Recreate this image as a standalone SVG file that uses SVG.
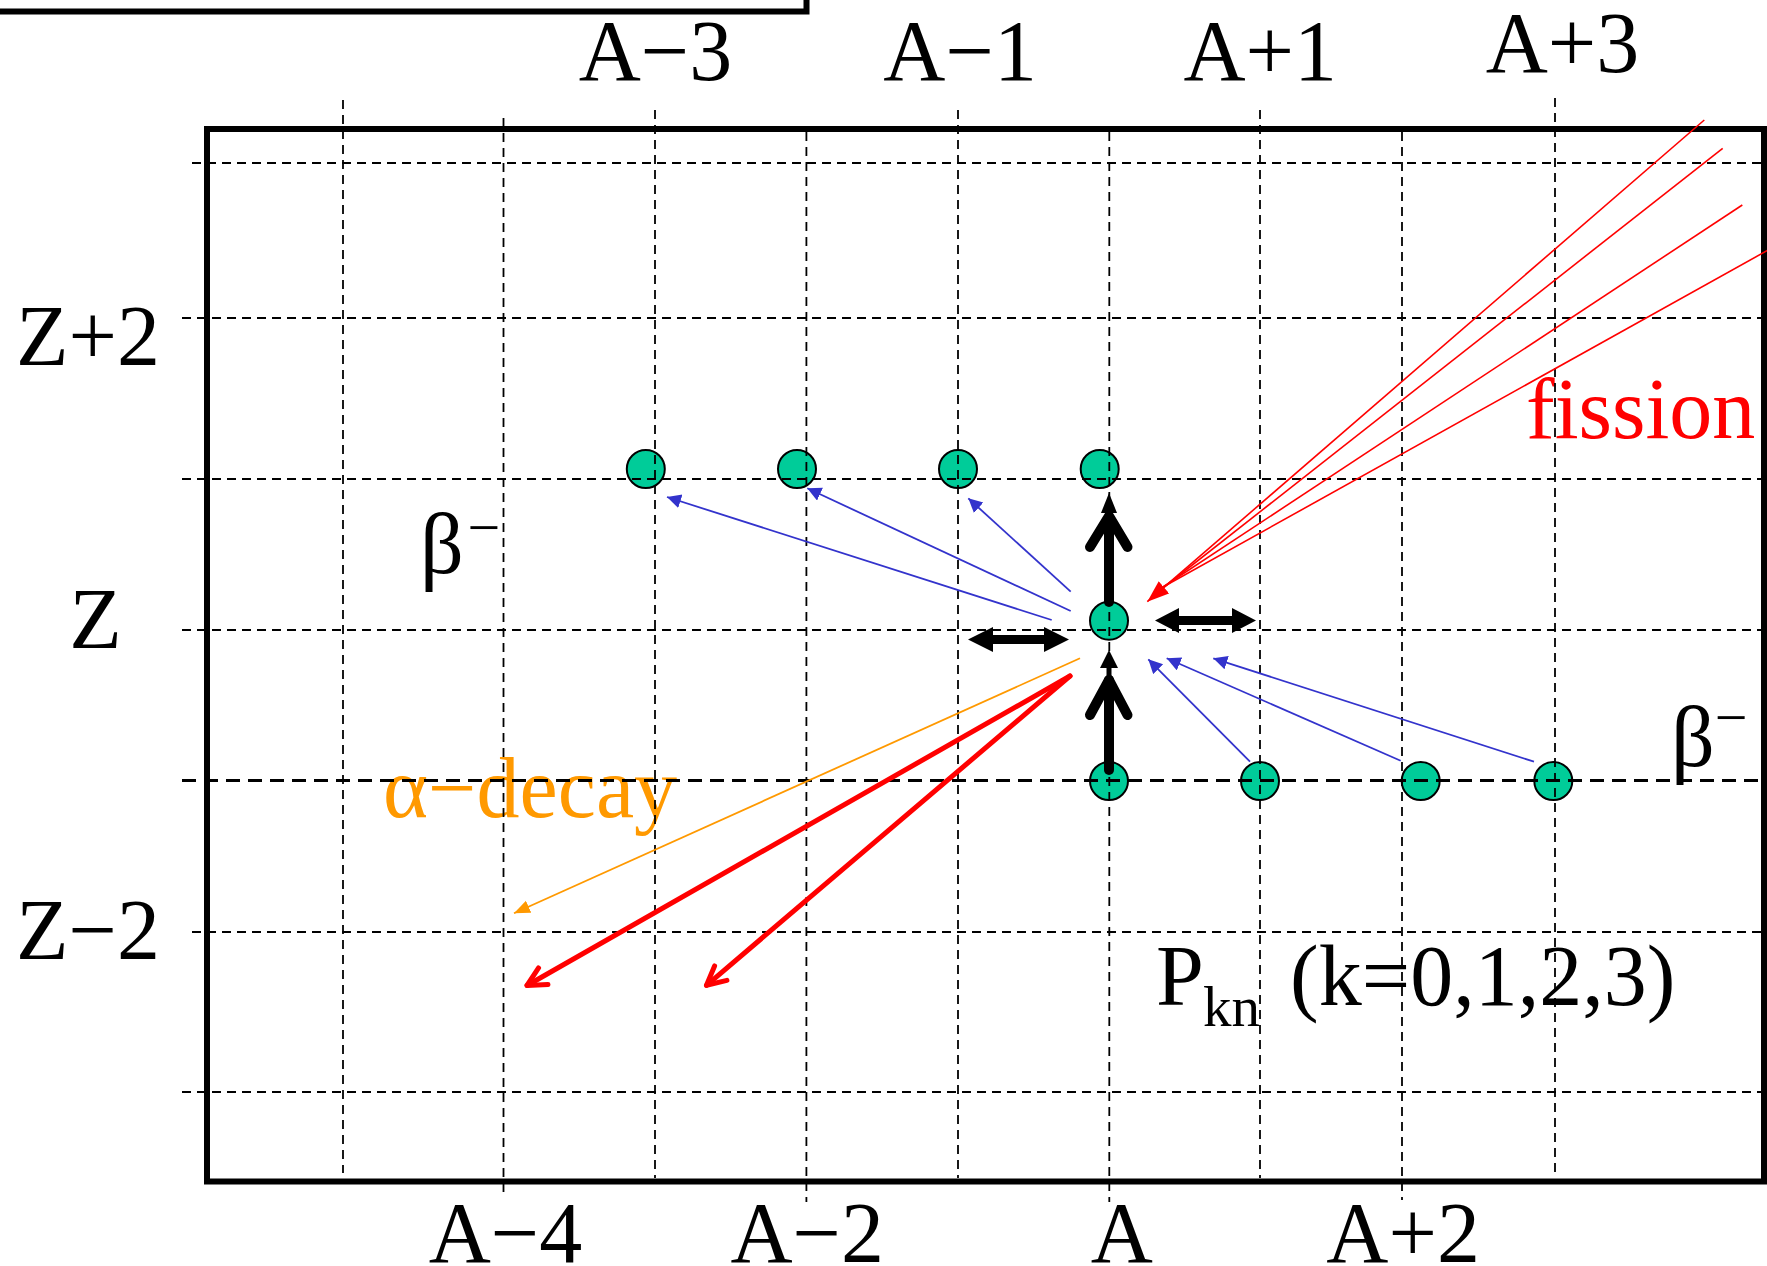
<svg xmlns="http://www.w3.org/2000/svg" width="1767" height="1266" viewBox="0 0 1767 1266">
<defs>
<style>
.lbl{font-family:"Liberation Serif","Times New Roman",serif;font-size:86px;fill:#000}
.sup{font-size:58px}
.sub{font-size:57px}
.node circle{fill:#00CC99;stroke:#000;stroke-width:2}
.grid line{stroke:#000;stroke-width:1.8;stroke-dasharray:9 6;fill:none}
.grid line.bold{stroke-width:3;stroke-dasharray:14 8}
.frame{fill:none;stroke:#000;stroke-width:6}
.blue{stroke:#3333CC;stroke-width:1.8;fill:none;marker-end:url(#hb)}
.orange{stroke:#FF9900;stroke-width:1.8;fill:none;marker-end:url(#ho)}
.fis{stroke:#FF0000;stroke-width:1.6;fill:none}
.redthick{stroke:#FF0000;stroke-width:5;fill:none;stroke-linecap:round;marker-end:url(#hrc)}
.blk{stroke:#000;stroke-width:10;fill:none;stroke-linecap:round;stroke-linejoin:round}
.blkfill{fill:#000;stroke:none}
</style>
<marker id="hb" markerUnits="userSpaceOnUse" markerWidth="16" markerHeight="16" refX="14" refY="7" orient="auto"><path d="M0,0 L14,7 L0,14 z" fill="#3333CC"/></marker>
<marker id="ho" markerUnits="userSpaceOnUse" markerWidth="18" markerHeight="16" refX="16" refY="6.5" orient="auto"><path d="M0,0 L16,6.5 L0,13 z" fill="#FF9900"/></marker>
<marker id="hr" markerUnits="userSpaceOnUse" markerWidth="24" markerHeight="18" refX="22" refY="8" orient="auto"><path d="M0,0 L22,8 L0,16 z" fill="#FF0000"/></marker>
<marker id="hrc" markerUnits="userSpaceOnUse" markerWidth="1" markerHeight="1" refX="0" refY="0" orient="auto" style="overflow:visible"><path d="M-18.7,-9.5 L0,0 L-18.7,9.5" fill="none" stroke="#FF0000" stroke-width="5" stroke-linecap="round" stroke-linejoin="round"/></marker>
</defs>
<rect width="1767" height="1266" fill="#fff"/>

<g id="labels" class="lbl">
<text x="578.7" y="80">A−3</text>
<text x="883.3" y="80">A−1</text>
<text x="1183.5" y="80">A+1</text>
<text x="1485.7" y="71.7">A+3</text>
<text x="428.7" y="1262">A−4</text>
<text x="730.5" y="1262">A−2</text>
<text x="1090.7" y="1262">A</text>
<text x="1326.3" y="1262">A+2</text>
<text x="16" y="364.8">Z+2</text>
<text x="69.2" y="648">Z</text>
<text x="16" y="959">Z−2</text>
<text x="420" y="573">β<tspan class="sup" x="467.5" y="547">−</tspan></text>
<text x="1671" y="766">β<tspan class="sup" x="1714.7" y="737">−</tspan></text>
<text x="383" y="817" fill="#FF9900" style="fill:#FF9900">α−decay</text>
<text x="1526" y="438" style="fill:#FF0000">fission</text>
<text x="1156" y="1005">P<tspan class="sub" x="1203" y="1026">kn</tspan><tspan x="1290" y="1005">(k=0,1,2,3)</tspan></text>
</g>

<g id="node-z1-a3" class="node"><circle cx="645.8" cy="469" r="19"/></g>
<g id="node-z1-a2" class="node"><circle cx="797" cy="469" r="19"/></g>
<g id="node-z1-a1" class="node"><circle cx="958" cy="469" r="19"/></g>
<g id="node-z1-a0" class="node"><circle cx="1099.7" cy="469" r="19"/></g>
<g id="node-z-a" class="node"><circle cx="1109" cy="620.7" r="19"/></g>
<g id="node-zm1-a" class="node"><circle cx="1109" cy="781" r="19"/></g>
<g id="node-zm1-a1" class="node"><circle cx="1260" cy="781" r="19"/></g>
<g id="node-zm1-a2" class="node"><circle cx="1420.7" cy="781" r="19"/></g>
<g id="node-zm1-a3" class="node"><circle cx="1553.3" cy="781" r="19"/></g>

<g id="grid" class="grid">
<line x1="192" y1="163" x2="1762" y2="163"/>
<line x1="182" y1="318" x2="1762" y2="318"/>
<line x1="182" y1="479" x2="1762" y2="479"/>
<line x1="182" y1="630" x2="1762" y2="630"/>
<line class="bold" x1="182" y1="780.5" x2="1762" y2="780.5"/>
<line x1="192" y1="932" x2="1762" y2="932"/>
<line x1="182" y1="1092" x2="1762" y2="1092"/>
<line x1="343" y1="100" x2="343" y2="1173"/>
<line x1="503.5" y1="118" x2="503.5" y2="1192"/>
<line x1="655" y1="110" x2="655" y2="1178"/>
<line x1="806.4" y1="132" x2="806.4" y2="1202"/>
<line x1="958" y1="110" x2="958" y2="1178"/>
<line x1="1109.3" y1="132" x2="1109.3" y2="1202"/>
<line x1="1260" y1="110" x2="1260" y2="1178"/>
<line x1="1402" y1="132" x2="1402" y2="1200"/>
<line x1="1555" y1="98" x2="1555" y2="1172"/>
</g>

<rect id="frame" class="frame" x="207" y="129" width="1557" height="1052.5"/>
<path id="topbox" class="frame" d="M-5,11.5 H806.5 V-5"/>

<g id="connectors">
<line class="blue" x1="1051.7" y1="620" x2="667" y2="497"/>
<line class="blue" x1="1070.7" y1="611" x2="807.3" y2="488.3"/>
<line class="blue" x1="1070.7" y1="591.7" x2="968.3" y2="498.3"/>
<line class="blue" x1="1250" y1="761.7" x2="1148.3" y2="659.3"/>
<line class="blue" x1="1400.7" y1="760.7" x2="1166.7" y2="658.3"/>
<line class="blue" x1="1534" y1="761.7" x2="1213.3" y2="658.3"/>
<line class="orange" x1="1080" y1="658.3" x2="514" y2="913.3"/>
<line class="redthick" x1="1070" y1="676" x2="527" y2="985.5"/>
<line class="redthick" x1="1070" y1="676" x2="706.5" y2="985.3"/>
<line class="fis" x1="1704.3" y1="120" x2="1147.3" y2="601.7" style="marker-end:url(#hr)"/>
<line class="fis" x1="1722.7" y1="148.3" x2="1163" y2="588"/>
<line class="fis" x1="1742.3" y1="205" x2="1163" y2="587"/>
<line class="fis" x1="1770" y1="249" x2="1163" y2="587"/>
<path class="blk" d="M1109,602 V518"/>
<path class="blk" d="M1090,547 L1109,516 L1127.5,547"/>
<path class="blkfill" d="M1109,493 L1101,513 L1117,513 z"/>
<path class="blk" d="M1109,770 V680"/>
<path class="blk" d="M1090,715 L1109,680 L1127.5,715"/>
<path d="M1109,680 V666" stroke="#000" stroke-width="5"/>
<path class="blkfill" d="M1109,650 L1100,668 L1118,668 z"/>
<polygon class="blkfill" points="968,639.5 993,627 993,635 1044,635 1044,627 1069,639.5 1044,652 1044,644 993,644 993,652"/>
<polygon class="blkfill" points="1155,620.5 1179,608 1179,616 1232,616 1232,608 1256,620.5 1232,633 1232,625 1179,625 1179,633"/>
</g>
</svg>
